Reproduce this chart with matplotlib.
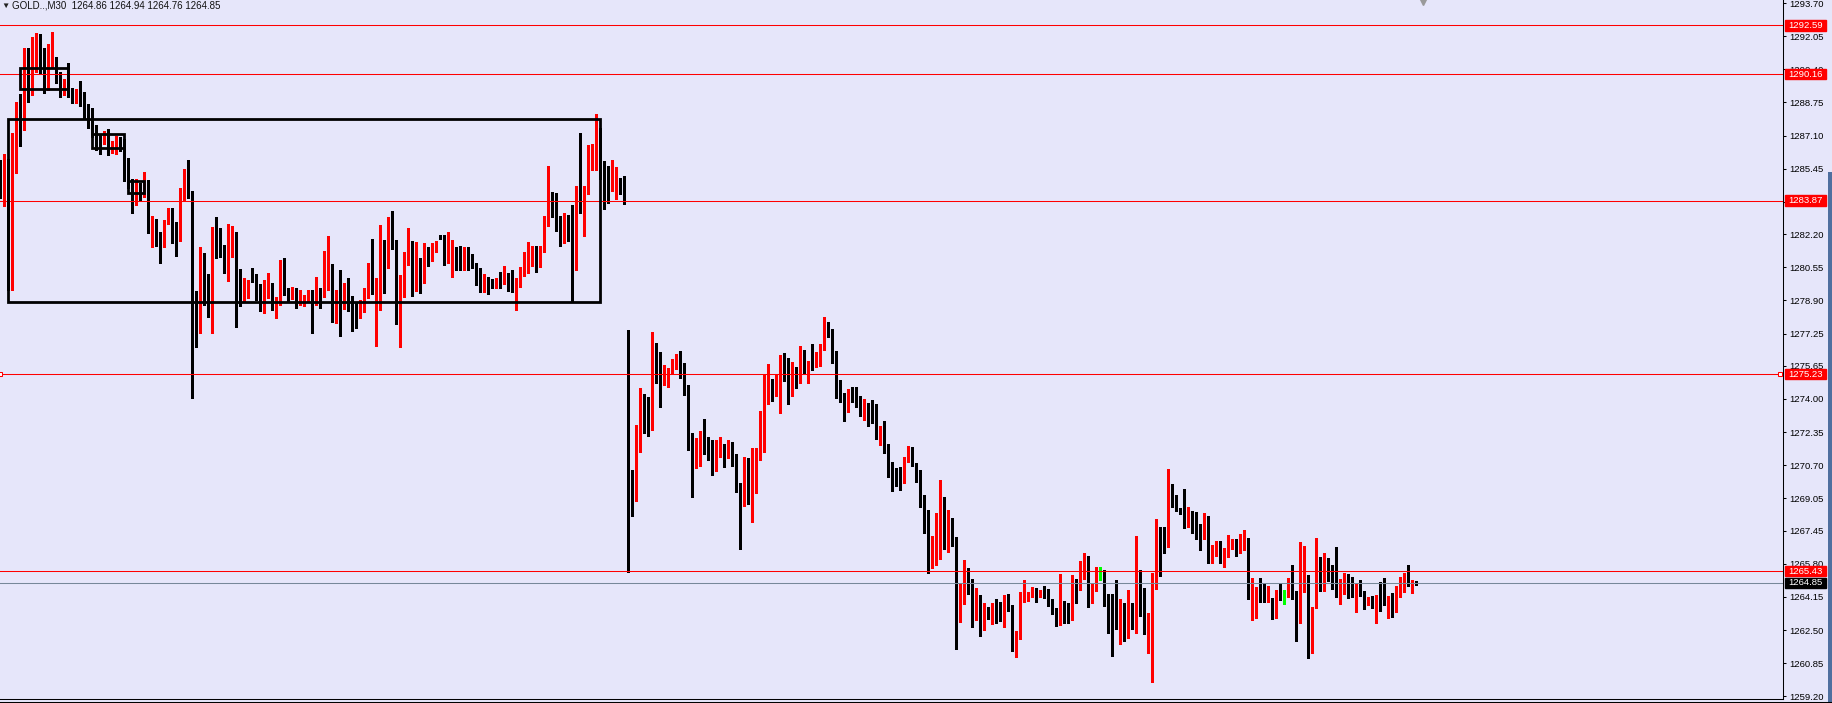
import matplotlib
matplotlib.use("Agg")
import matplotlib.pyplot as plt
from matplotlib.patches import Rectangle
from matplotlib.lines import Line2D

plt.rcParams['font.family'] = ['Liberation Sans', 'DejaVu Sans']

## Step 1: candle data (GOLD, M30)
opens = [
    1285.74, 1284.99, 1285.89, 1279.52, 1286.44, 1288.03, 1287.38, 1290.82, 1289.37, 1291.41,
    1291.91, 1291.46, 1289.37, 1290.67, 1290.87, 1290.22, 1289.32, 1289.57, 1289.27, 1288.78,
    1289.32, 1289.27, 1288.68, 1288.38, 1287.03, 1286.78, 1286.74, 1287.33, 1286.34, 1286.39,
    1286.93, 1286.91, 1285.44, 1284.64, 1284.05, 1284.54, 1284.39, 1284.74, 1282.31, 1282.85,
    1282.16, 1281.66, 1282.85, 1283.30, 1282.01, 1281.91, 1284.10, 1285.34, 1284.25, 1278.08,
    1277.33, 1279.87, 1279.72, 1278.58, 1282.16, 1282.01, 1281.56, 1280.27, 1281.76, 1282.21,
    1279.42, 1278.83, 1279.62, 1280.52, 1279.72, 1279.12, 1278.43, 1279.27, 1279.32, 1278.53,
    1278.68, 1280.17, 1279.17, 1278.97, 1279.47, 1278.73, 1278.78, 1278.88, 1279.42, 1278.83,
    1279.47, 1279.37, 1280.47, 1280.66, 1278.43, 1279.37, 1278.58, 1279.32, 1278.78, 1278.63,
    1278.08, 1278.88, 1279.02, 1280.42, 1279.22, 1279.87, 1281.91, 1280.76, 1282.41, 1281.51,
    1278.13, 1279.62, 1280.66, 1281.86, 1279.47, 1280.91, 1280.76, 1281.41, 1281.11, 1281.56,
    1282.16, 1282.11, 1281.24, 1281.21, 1281.51, 1281.11, 1280.81, 1281.51, 1280.96, 1280.61,
    1280.07, 1279.42, 1280.07, 1279.97, 1279.72, 1279.87, 1279.77, 1280.12, 1279.52, 1279.37,
    1279.77, 1280.17, 1280.61, 1281.26, 1281.26, 1280.81, 1281.51, 1282.66, 1284.25, 1283.40,
    1282.46, 1282.41, 1283.00, 1282.66, 1280.81, 1284.00, 1283.40, 1284.25, 1286.34, 1286.29,
    1287.03, 1284.89, 1284.49, 1284.40, 1284.54, 1284.84, 1284.79, 1277.43, 1269.92, 1268.98,
    1271.41, 1274.00, 1273.55, 1272.46, 1275.89, 1275.94, 1274.80, 1274.80, 1275.29, 1275.54,
    1275.89, 1275.09, 1274.40, 1272.21, 1270.96, 1271.11, 1272.31, 1271.51, 1271.46, 1270.62,
    1271.26, 1271.56, 1271.26, 1271.46, 1270.72, 1269.47, 1268.68, 1269.87, 1268.78, 1269.37,
    1271.01, 1272.36, 1274.55, 1274.85, 1274.55, 1274.70, 1275.54, 1275.44, 1274.50, 1275.59,
    1274.95, 1276.14, 1275.29, 1276.24, 1275.74, 1275.79, 1276.44, 1277.43, 1277.28, 1276.39,
    1274.95, 1274.10, 1273.65, 1274.40, 1274.55, 1274.10, 1273.30, 1273.50, 1273.35, 1273.15,
    1272.01, 1272.56, 1271.76, 1270.86, 1270.12, 1270.02, 1269.87, 1270.86, 1271.51, 1270.67,
    1270.47, 1269.02, 1267.93, 1266.24, 1266.24, 1267.43, 1269.07, 1266.64, 1267.83, 1267.04,
    1263.10, 1264.55, 1265.39, 1264.85, 1263.45, 1264.20, 1262.76, 1263.60, 1263.15, 1264.00,
    1263.75, 1263.35, 1264.15, 1263.65, 1261.56, 1262.16, 1263.90, 1264.00, 1264.35, 1264.55,
    1264.20, 1264.50, 1264.40, 1263.85, 1263.50, 1262.86, 1263.60, 1263.15, 1263.10, 1264.90,
    1264.70, 1265.09, 1265.94, 1264.00, 1264.70, 1265.19, 1265.14, 1264.15, 1263.95, 1263.20,
    1263.05, 1263.30, 1262.81, 1263.30, 1263.05, 1264.80, 1264.60, 1262.56, 1262.66, 1264.85,
    1267.13, 1267.04, 1266.74, 1269.47, 1269.12, 1268.53, 1268.38, 1267.68, 1268.33, 1268.13,
    1267.53, 1267.28, 1268.13, 1265.99, 1266.29, 1266.49, 1265.99, 1266.29, 1266.69, 1266.79,
    1266.34, 1266.99, 1267.04, 1264.05, 1264.30, 1264.40, 1264.20, 1263.90, 1264.10, 1263.10,
    1264.45, 1264.35, 1264.30, 1264.95, 1264.45, 1263.95, 1265.14, 1265.24, 1261.71, 1263.60,
    1265.49, 1264.90, 1265.79, 1265.74, 1264.85, 1264.40, 1264.75, 1265.14, 1264.80, 1264.30,
    1264.75, 1264.40, 1263.80, 1264.10, 1263.80, 1264.05, 1263.90, 1263.85, 1263.90, 1263.65,
    1264.30, 1264.50, 1264.99, 1264.80, 1264.86,
]

highs = [
    1285.89, 1286.19, 1285.95, 1287.23, 1288.78, 1289.17, 1291.46, 1291.46, 1292.01, 1292.21,
    1292.16, 1291.46, 1291.66, 1292.26, 1291.01, 1290.27, 1289.92, 1290.72, 1289.47, 1289.42,
    1289.82, 1289.27, 1288.68, 1288.48, 1287.63, 1287.18, 1287.33, 1287.43, 1286.83, 1287.08,
    1287.03, 1286.91, 1285.99, 1284.94, 1284.94, 1284.74, 1285.29, 1284.89, 1283.10, 1282.95,
    1282.31, 1282.90, 1283.50, 1283.50, 1282.81, 1284.49, 1285.44, 1285.89, 1284.35, 1279.37,
    1281.56, 1281.26, 1280.22, 1282.56, 1283.05, 1282.51, 1281.66, 1282.71, 1282.61, 1282.31,
    1280.47, 1280.02, 1279.92, 1280.52, 1280.22, 1279.72, 1279.92, 1280.27, 1279.77, 1279.07,
    1280.91, 1281.01, 1279.52, 1279.57, 1279.52, 1279.42, 1279.17, 1279.42, 1279.42, 1280.07,
    1279.52, 1281.36, 1282.11, 1280.71, 1279.42, 1280.42, 1279.77, 1280.02, 1279.12, 1278.83,
    1278.93, 1279.52, 1280.76, 1281.96, 1280.02, 1282.66, 1281.91, 1283.05, 1283.35, 1281.91,
    1280.17, 1281.31, 1282.51, 1281.86, 1281.81, 1281.01, 1281.76, 1281.56, 1281.76, 1281.86,
    1282.16, 1282.16, 1282.31, 1281.91, 1281.56, 1281.61, 1281.56, 1281.56, 1281.21, 1280.76,
    1280.52, 1280.22, 1280.07, 1279.97, 1280.02, 1280.32, 1280.61, 1280.27, 1280.42, 1280.02,
    1280.56, 1281.31, 1281.81, 1281.61, 1281.61, 1281.61, 1283.10, 1285.59, 1284.30, 1284.25,
    1283.10, 1283.25, 1283.15, 1283.65, 1284.59, 1287.23, 1284.59, 1286.64, 1286.69, 1288.18,
    1287.48, 1285.84, 1285.59, 1285.89, 1285.54, 1284.99, 1285.09, 1277.43, 1270.47, 1272.70,
    1274.55, 1274.25, 1274.10, 1277.33, 1276.79, 1276.34, 1275.69, 1275.54, 1275.99, 1276.24,
    1276.39, 1275.79, 1274.70, 1272.31, 1272.06, 1272.41, 1273.00, 1272.11, 1271.96, 1271.96,
    1272.11, 1271.76, 1271.96, 1271.86, 1271.26, 1269.82, 1271.11, 1271.06, 1271.56, 1271.56,
    1273.40, 1275.24, 1275.74, 1275.00, 1275.24, 1276.19, 1276.29, 1276.04, 1275.84, 1275.59,
    1276.64, 1276.44, 1275.89, 1276.74, 1276.34, 1276.74, 1278.08, 1277.83, 1277.48, 1276.39,
    1274.95, 1274.30, 1274.50, 1274.60, 1274.60, 1274.15, 1274.00, 1273.80, 1273.95, 1273.75,
    1272.66, 1272.90, 1271.76, 1270.86, 1270.57, 1270.62, 1271.11, 1271.66, 1271.61, 1270.82,
    1270.47, 1269.22, 1268.48, 1267.18, 1268.33, 1269.97, 1269.12, 1268.48, 1268.08, 1267.13,
    1264.85, 1265.99, 1265.59, 1265.05, 1264.60, 1264.25, 1263.85, 1263.65, 1263.85, 1264.05,
    1263.90, 1264.25, 1264.30, 1263.75, 1262.46, 1264.40, 1264.99, 1264.40, 1264.65, 1264.60,
    1264.50, 1264.70, 1264.55, 1264.05, 1263.60, 1265.29, 1263.95, 1263.85, 1265.24, 1265.05,
    1265.94, 1266.34, 1266.19, 1264.85, 1265.64, 1265.64, 1265.49, 1264.30, 1264.30, 1264.99,
    1264.05, 1263.85, 1264.50, 1263.85, 1267.18, 1265.49, 1264.60, 1263.35, 1265.34, 1268.03,
    1267.63, 1267.63, 1270.52, 1269.77, 1269.22, 1268.58, 1269.52, 1268.63, 1268.43, 1268.38,
    1267.78, 1268.33, 1268.18, 1266.74, 1266.94, 1266.94, 1266.59, 1267.23, 1267.04, 1267.04,
    1267.28, 1267.48, 1267.09, 1265.09, 1264.65, 1265.09, 1264.80, 1264.70, 1264.10, 1264.50,
    1264.80, 1264.50, 1265.09, 1265.74, 1264.45, 1266.89, 1266.69, 1265.24, 1263.65, 1267.09,
    1266.14, 1266.34, 1266.09, 1265.74, 1266.64, 1265.05, 1265.34, 1265.29, 1265.14, 1264.85,
    1264.99, 1264.45, 1264.15, 1264.20, 1264.25, 1264.90, 1265.09, 1264.20, 1264.35, 1264.70,
    1265.14, 1265.34, 1265.74, 1264.99, 1264.94,
]

lows = [
    1284.00, 1283.60, 1279.42, 1279.42, 1285.24, 1286.59, 1287.38, 1288.78, 1289.12, 1290.27,
    1290.22, 1289.22, 1289.37, 1290.47, 1289.72, 1289.02, 1289.12, 1289.02, 1288.73, 1288.73,
    1288.58, 1288.00, 1287.48, 1287.03, 1286.39, 1286.19, 1286.69, 1286.14, 1286.24, 1286.19,
    1286.34, 1284.84, 1284.49, 1283.25, 1283.65, 1283.90, 1284.05, 1282.26, 1281.56, 1281.61,
    1280.76, 1281.56, 1282.71, 1281.76, 1281.11, 1281.86, 1283.90, 1284.00, 1274.05, 1276.59,
    1277.28, 1278.68, 1278.08, 1277.28, 1281.01, 1281.06, 1280.27, 1279.87, 1281.06, 1277.58,
    1278.63, 1278.83, 1279.02, 1279.82, 1278.93, 1278.38, 1278.28, 1279.02, 1278.43, 1278.03,
    1278.68, 1279.17, 1278.88, 1278.97, 1278.53, 1278.68, 1278.63, 1278.88, 1277.28, 1278.68,
    1278.53, 1279.07, 1279.42, 1277.83, 1277.78, 1277.13, 1278.48, 1278.38, 1277.38, 1277.53,
    1278.03, 1278.33, 1279.02, 1279.22, 1276.64, 1278.43, 1279.27, 1280.52, 1281.46, 1277.73,
    1276.59, 1279.07, 1280.66, 1279.12, 1279.37, 1279.27, 1279.77, 1280.61, 1280.86, 1281.31,
    1281.96, 1280.66, 1280.76, 1280.07, 1280.42, 1280.42, 1280.42, 1280.42, 1280.52, 1279.67,
    1279.32, 1279.32, 1279.22, 1279.52, 1279.52, 1279.52, 1279.72, 1279.37, 1279.32, 1278.43,
    1279.57, 1280.12, 1280.27, 1280.61, 1280.32, 1280.56, 1281.31, 1282.61, 1283.05, 1282.36,
    1281.61, 1281.76, 1281.86, 1278.83, 1280.42, 1283.25, 1282.11, 1284.20, 1285.39, 1285.39,
    1284.94, 1283.45, 1283.75, 1284.35, 1283.95, 1284.20, 1283.70, 1265.40, 1268.18, 1268.93,
    1271.36, 1272.31, 1272.16, 1272.46, 1274.80, 1273.60, 1274.70, 1274.60, 1275.24, 1275.49,
    1275.04, 1274.20, 1271.46, 1269.12, 1270.57, 1270.67, 1271.26, 1270.96, 1270.22, 1270.42,
    1271.11, 1270.62, 1271.06, 1270.67, 1269.37, 1266.54, 1268.68, 1268.78, 1267.88, 1269.32,
    1270.96, 1271.36, 1273.75, 1273.90, 1274.15, 1273.30, 1274.90, 1273.75, 1274.15, 1274.55,
    1274.80, 1275.24, 1274.80, 1275.44, 1275.59, 1275.64, 1276.44, 1277.08, 1275.79, 1274.05,
    1273.85, 1272.90, 1273.35, 1273.85, 1273.60, 1273.15, 1272.95, 1272.66, 1272.81, 1272.01,
    1271.71, 1271.31, 1270.12, 1269.42, 1269.67, 1269.47, 1269.82, 1270.86, 1270.67, 1269.87,
    1268.63, 1267.33, 1265.34, 1265.59, 1265.74, 1266.04, 1266.54, 1266.39, 1266.69, 1261.56,
    1262.91, 1263.80, 1264.30, 1262.66, 1263.00, 1262.21, 1262.51, 1263.05, 1262.81, 1262.86,
    1262.96, 1262.66, 1263.45, 1261.46, 1261.16, 1262.06, 1263.90, 1263.95, 1264.15, 1263.90,
    1264.15, 1264.10, 1263.70, 1263.30, 1262.71, 1262.76, 1262.86, 1262.86, 1263.00, 1263.85,
    1264.50, 1265.05, 1263.65, 1263.85, 1264.45, 1264.99, 1263.70, 1262.36, 1261.21, 1262.56,
    1261.81, 1261.96, 1262.11, 1262.56, 1262.36, 1263.20, 1262.31, 1261.36, 1259.92, 1264.55,
    1265.19, 1266.34, 1266.64, 1268.63, 1268.43, 1268.28, 1267.58, 1267.63, 1267.33, 1267.04,
    1266.49, 1267.04, 1265.84, 1265.84, 1266.19, 1265.84, 1265.64, 1266.14, 1266.54, 1266.19,
    1266.34, 1266.49, 1264.05, 1263.00, 1263.10, 1263.90, 1263.90, 1263.90, 1263.05, 1263.10,
    1264.00, 1263.80, 1264.15, 1264.05, 1261.96, 1262.86, 1264.40, 1261.11, 1261.36, 1263.60,
    1264.45, 1264.45, 1264.95, 1264.55, 1264.15, 1263.80, 1264.30, 1264.10, 1264.15, 1263.40,
    1264.20, 1263.55, 1263.75, 1263.60, 1262.86, 1263.45, 1263.75, 1263.10, 1263.15, 1263.40,
    1264.15, 1264.40, 1264.70, 1264.35, 1264.76,
]

closes = [
    1284.99, 1285.89, 1279.52, 1286.44, 1287.93, 1287.48, 1290.72, 1289.27, 1291.41, 1291.91,
    1291.46, 1289.47, 1290.67, 1290.87, 1290.12, 1289.37, 1289.67, 1289.22, 1288.73, 1289.32,
    1289.12, 1288.73, 1288.33, 1287.03, 1286.74, 1286.69, 1287.28, 1286.39, 1286.49, 1287.03,
    1286.88, 1285.39, 1284.64, 1284.05, 1284.49, 1284.39, 1284.74, 1282.31, 1282.90, 1282.11,
    1281.61, 1282.90, 1283.30, 1282.11, 1281.91, 1284.05, 1285.34, 1284.25, 1278.08, 1277.43,
    1279.87, 1279.67, 1278.48, 1282.11, 1281.86, 1281.56, 1280.32, 1281.86, 1282.21, 1279.27,
    1278.83, 1279.72, 1279.92, 1279.82, 1279.02, 1278.43, 1279.27, 1279.52, 1278.63, 1278.73,
    1280.32, 1279.27, 1278.97, 1279.57, 1278.73, 1278.78, 1279.02, 1279.42, 1278.83, 1279.42,
    1279.37, 1280.52, 1280.66, 1278.43, 1279.42, 1278.63, 1279.32, 1278.63, 1278.58, 1278.08,
    1278.93, 1279.17, 1280.42, 1279.22, 1280.02, 1281.91, 1280.71, 1282.51, 1281.46, 1278.13,
    1279.67, 1280.66, 1281.86, 1279.47, 1280.86, 1280.66, 1281.41, 1281.06, 1281.51, 1281.71,
    1282.01, 1281.21, 1281.26, 1281.46, 1280.86, 1280.71, 1281.46, 1281.01, 1280.66, 1279.92,
    1279.47, 1280.07, 1279.92, 1279.72, 1279.82, 1279.77, 1280.12, 1279.47, 1279.42, 1279.87,
    1280.17, 1280.61, 1281.26, 1281.36, 1280.81, 1281.51, 1282.76, 1284.15, 1283.30, 1282.41,
    1282.31, 1283.05, 1282.71, 1280.91, 1283.95, 1283.50, 1284.35, 1286.34, 1286.44, 1287.08,
    1284.94, 1284.35, 1284.45, 1284.59, 1284.74, 1284.74, 1284.00, 1269.92, 1269.02, 1271.41,
    1274.05, 1273.45, 1272.61, 1275.99, 1275.84, 1274.80, 1274.95, 1275.34, 1275.54, 1275.89,
    1275.09, 1274.35, 1272.11, 1271.06, 1271.11, 1272.11, 1271.46, 1271.41, 1270.57, 1271.26,
    1271.66, 1271.26, 1271.46, 1270.67, 1269.52, 1268.58, 1269.97, 1268.78, 1269.42, 1271.06,
    1272.46, 1274.60, 1274.90, 1274.55, 1274.75, 1275.64, 1275.39, 1274.50, 1275.59, 1274.85,
    1276.04, 1275.24, 1275.89, 1275.74, 1275.84, 1276.49, 1277.38, 1277.23, 1276.24, 1274.99,
    1273.90, 1273.65, 1274.50, 1274.35, 1274.10, 1273.30, 1273.50, 1273.20, 1273.00, 1272.01,
    1272.56, 1271.76, 1270.82, 1270.07, 1269.92, 1269.87, 1271.01, 1271.51, 1270.67, 1270.42,
    1269.07, 1267.88, 1266.19, 1266.29, 1267.48, 1268.98, 1266.64, 1267.78, 1266.99, 1263.10,
    1264.55, 1265.39, 1264.85, 1263.45, 1264.20, 1262.71, 1263.65, 1263.10, 1263.75, 1263.60,
    1263.35, 1264.05, 1263.50, 1261.46, 1262.21, 1264.05, 1264.10, 1264.40, 1264.50, 1264.15,
    1264.45, 1264.35, 1263.80, 1263.45, 1262.76, 1263.55, 1263.20, 1263.00, 1264.90, 1264.75,
    1265.14, 1265.94, 1264.05, 1264.70, 1265.19, 1265.19, 1264.10, 1263.90, 1263.05, 1263.05,
    1263.25, 1262.81, 1263.20, 1263.05, 1264.80, 1264.45, 1262.56, 1262.81, 1264.95, 1267.13,
    1267.09, 1266.79, 1269.42, 1269.17, 1268.88, 1268.33, 1267.78, 1268.23, 1268.08, 1267.38,
    1267.28, 1268.23, 1266.09, 1266.34, 1266.54, 1265.89, 1266.44, 1266.79, 1266.89, 1266.44,
    1266.99, 1267.09, 1264.05, 1264.35, 1264.40, 1264.10, 1263.95, 1264.10, 1263.15, 1264.50,
    1264.35, 1264.35, 1264.99, 1264.40, 1264.00, 1265.14, 1265.19, 1261.71, 1263.65, 1265.44,
    1264.90, 1265.79, 1265.69, 1264.85, 1264.30, 1264.80, 1265.24, 1264.80, 1264.35, 1264.75,
    1264.30, 1264.00, 1264.15, 1263.60, 1264.05, 1263.80, 1263.80, 1264.00, 1263.70, 1264.30,
    1264.55, 1265.05, 1264.75, 1264.85, 1264.85,
]

symbol = "GOLD..,M30"
last_ohlc = ["1264.86", "1264.94", "1264.76", "1264.85"]

# horizontal levels drawn on the chart, and the bid line
levels = [1292.59, 1290.16, 1283.87, 1275.23, 1265.43]
bid = 1264.85

# user drawn boxes: (first bar, last bar, low, high)
boxes = [
    (1.84, 149.9, 1278.84, 1287.93),
    (4.84, 17.0, 1289.42, 1290.45),
    (22.84, 31.0, 1286.50, 1287.20),
    (31.84, 36.0, 1284.25, 1284.86),
]

tick_labels = ["1293.70", "1292.05", "1290.40", "1288.75", "1287.10", "1285.45", "1283.80",
               "1282.20", "1280.55", "1278.90", "1277.25", "1275.65", "1274.00", "1272.35",
               "1270.70", "1269.05", "1267.45", "1265.80", "1264.15", "1262.50", "1260.85",
               "1259.20"]

## Step 2: figure
BG = "#E6E6FA"
RED = "#FF0000"
GREEN = "#00FF00"
W, H = 1832, 703

fig = plt.figure(figsize=(W / 100, H / 100), dpi=100, facecolor=BG)
ax = fig.add_axes([0, 4 / H, 1783 / W, 699 / H])
ax.set_facecolor(BG)
ax.set_xlim(-0.0825, 445.67)
ax.set_ylim(1259.07, 1293.85)

x = list(range(len(closes)))
colors = []
bottoms = []
heights = []
for o, c in zip(opens, closes):
    if c > o:
        colors.append(RED)
    elif c < o:
        colors.append("black")
    else:
        colors.append(GREEN)
    h = max(abs(c - o), 0.05)   # at least one pixel for dojis
    bottoms.append(min(o, c) - (h - abs(c - o)) / 2)
    heights.append(h)

ax.vlines(x, lows, highs, colors=colors, linewidth=0.75, antialiased=False, zorder=2)
ax.bar(x, heights, width=0.8, bottom=bottoms, color=colors, linewidth=0,
       antialiased=False, zorder=3)

for p in levels:
    ax.axhline(p, color=RED, linewidth=0.75, zorder=4)
ax.axhline(bid, color="#778899", linewidth=0.75, zorder=4)
ax.plot([-0.05, 444.9], [levels[3], levels[3]], ls="none", marker="s", ms=3.2,
        mfc="white", mec=RED, mew=0.75, zorder=5, clip_on=False)

for x0, x1, lo, hi in boxes:
    ax.add_patch(Rectangle((x0, lo), x1 - x0, hi - lo, fill=False, ec="black",
                           lw=2, zorder=5))

# chart shift marker at the top
ax.plot([1423 / 1783], [0.997], transform=ax.transAxes, marker="v", ms=5,
        color="#9A9A9A", clip_on=False, zorder=5)

## Step 3: price axis on the right
ax.set_xticks([])
ax.yaxis.tick_right()
ax.set_yticks([float(t) for t in tick_labels])
ax.set_yticklabels(tick_labels)
ax.tick_params(axis="y", direction="out", length=2.5, width=0.75, pad=2,
               labelsize=6.8, colors="black")
for side in ["left", "top"]:
    ax.spines[side].set_visible(False)
for side in ["right", "bottom"]:
    ax.spines[side].set_linewidth(0.75)

trans = ax.get_yaxis_transform()


def price_box(p, color):
    ax.add_patch(Rectangle((1785 / 1783, p - 0.26), 41 / 1783, 0.52, transform=trans,
                           color=color, clip_on=False, zorder=6))
    ax.text(1805.5 / 1783, p, f"{p:.2f}", transform=trans, color="white", fontsize=6.8,
            ha="center", va="center", zorder=7, clip_on=False)


for p in levels:
    price_box(p, RED)
price_box(bid, "black")

## Step 4: header and window decorations
fig.text(1 / W, 1 - 6 / H, "\u25BC", fontsize=6, va="center", color="#222222")
fig.text(12 / W, 1 - 6 / H, symbol + "  " + " ".join(last_ohlc), fontsize=7,
         va="center", color="#111111")
fig.add_artist(Line2D([0, 1], [1.5 / H, 1.5 / H], transform=fig.transFigure,
                      color="black", lw=0.75))
fig.add_artist(Rectangle((1828 / W, 0), 4 / W, (H - 172) / H, transform=fig.transFigure,
                         color="#4F6F9F", lw=0))

fig.savefig("out.png", dpi=100, facecolor=BG)
